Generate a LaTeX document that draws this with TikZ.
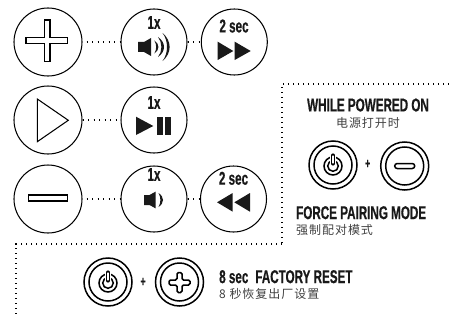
\documentclass[tikz,border=0pt]{standalone}
\usepackage{fontspec}
\setmainfont{Liberation Sans}
\newfontfamily\cond[FakeStretch=0.63,FakeBold=0.6]{Liberation Sans Bold}
\newfontfamily\cjk[LetterSpace=8]{Noto Sans CJK SC}
\usetikzlibrary{calc}
\colorlet{ink}{black!90}
\tikzset{
  bigbtn/.style={circle,draw=black,line width=1.05pt,minimum size=68pt,inner sep=0pt},
  actbtn/.style={circle,draw=black,line width=1.05pt,minimum size=66pt,inner sep=0pt},
  ring/.style={circle,draw=black,line width=1.5pt,minimum size=48pt,inner sep=0pt},
  ringin/.style={circle,draw=black,line width=1.5pt,minimum size=38pt,inner sep=0pt},
  dotline/.style={line width=1.2pt,dash pattern=on 1.2pt off 4.3pt},
  frameline/.style={line width=1.3pt,dash pattern=on 1.3pt off 3.7pt},
  boldtxt/.style={font=\cond\fontsize{#1}{#1}\selectfont,inner sep=0pt,text=ink},
  zh/.style={font=\cjk\fontsize{12}{12}\selectfont,inner sep=0pt,text=black!75},
  glyph/.style={draw=black,line width=1.05pt,fill=white},
  smallglyph/.style={draw=black,line width=1.5pt,fill=white,rounded corners=1.5pt}
}
% crescent: tip x, centre y, half height, outer bulge, inner bulge
\newcommand{\crescent}[5]{\fill[ink] (#1,#2-#3) .. controls (#1+#4,#2-#3*0.45) and (#1+#4,#2+#3*0.45) .. (#1,#2+#3) .. controls (#1+#5,#2+#3*0.45) and (#1+#5,#2-#3*0.45) .. (#1,#2-#3) -- cycle;}
\newcommand{\powerglyph}[2]{%
  \begin{scope}[shift={(#1,#2)}]
  \draw[line width=1.5pt,black] (0,0) circle[radius=9];
  \draw[line width=1.5pt,black] (0,0) circle[radius=5.3];
  \draw[line width=5.4pt,white,line cap=round] (0,-11) -- (0,-2);
  \draw[line width=4.2pt,black,line cap=round] (0,-10.5) -- (0,-2.5);
  \draw[line width=1.2pt,white,line cap=round] (0,-10) -- (0,-3);
  \end{scope}}
\begin{document}
\begin{tikzpicture}[x=1pt,y=-1pt]
\useasboundingbox (0,0) rectangle (449,321);
% buttons
\node[bigbtn] (plus) at (48,42) {};
\node[actbtn] (volup) at (154,42) {};
\node[actbtn] (ffw) at (234.3,42) {};
\node[bigbtn] (play) at (48,120) {};
\node[actbtn] (pp) at (154,120) {};
\node[bigbtn] (minus) at (48,199) {};
\node[actbtn] (voldn) at (154,199) {};
\node[actbtn] (rew) at (233.5,199) {};
% connectors
\draw[dotline,shorten <=4pt] (plus) -- (volup);
\draw[dotline] (volup) -- (ffw);
\draw[dotline] (play) -- (pp);
\draw[dotline,shorten <=4pt] (minus) -- (voldn);
\draw[dotline] (voldn) -- (rew);
% big glyphs
\draw[glyph] (44.3,20) -- (50,20) -- (50,37.7) -- (67.7,37.7) -- (67.7,43.3) -- (50,43.3) -- (50,61.7) -- (44.3,61.7) -- (44.3,43.3) -- (26,43.3) -- (26,37.7) -- (44.3,37.7) -- cycle;
\draw[glyph] (37.3,99) -- (68.3,120.3) -- (37.3,141.7) -- cycle;
\draw[glyph] (28.3,195) rectangle (67.7,201);
% labels
\node[boldtxt=18.5] (l1) at (154,22.5) {1x};
\node[boldtxt=18.5] (l2) at (234,26) {2 sec};
\node[boldtxt=18.5] (l3) at (154,102.5) {1x};
\node[boldtxt=18.5] (l4) at (154,174.5) {1x};
\node[boldtxt=18.5] (l5) at (233.5,178.3) {2 sec};
% vol up glyph
\fill[ink] (138,42) -- (144,42) -- (151,38) -- (151,56) -- (144,52) -- (138,52) -- cycle;
\crescent{154.3}{47}{6.5}{5.5}{2.5}
\crescent{158}{47}{10}{8}{4.5}
\crescent{162.5}{47}{14}{9.5}{6}
% ffw
\fill[ink] (217.7,41.7) -- (233.3,51) -- (217.7,60) -- cycle;
\fill[ink] (234.7,41.7) -- (250.7,51) -- (234.7,60) -- cycle;
% play pause
\fill[ink] (136,116.7) -- (153.3,126) -- (136,135) -- cycle;
\fill[ink] (156.7,116.7) rectangle (163.3,135);
\fill[ink] (165,116.7) rectangle (171,135);
% vol down
\fill[ink] (144,195) -- (149.5,195) -- (155.5,191.7) -- (155.5,208.3) -- (149.5,205) -- (144,205) -- cycle;
\crescent{158.5}{200}{7}{6}{2.5}
% rew
\fill[ink] (232.7,193) -- (217,202.3) -- (232.7,211.7) -- cycle;
\fill[ink] (250,193) -- (234.3,202.3) -- (250,211.7) -- cycle;
% dotted frames
\coordinate (a) at (282,84);
\coordinate (b) at (449,84);
\coordinate (c) at (282,244);
\coordinate (d) at (16,244);
\coordinate (e) at (16,316);
\draw[frameline] (b) -- (a) -- (c);
\draw[frameline] (c) -- (d) -- (e);
% right panel
\node[boldtxt=18.5] (t1) at (368,105) {WHILE POWERED ON};
\node[zh] (t2) at (368,123) {电源打开时};
\node[ring] (pwr1) at (333,165) {};
\node[ringin] (pwr1i) at (333,165) {};
\powerglyph{333}{166}
\node[boldtxt=14] (plus1) at (367.7,164) {+};
\node[ring] (min1) at (404.7,166) {};
\node[ringin] (min1i) at (404.7,166) {};
\draw[smallglyph,rounded corners=2.5pt] (394.7,163.5) rectangle (414.7,168.5);
\node[boldtxt=18.5,anchor=west] (t3) at (296,212.7) {FORCE PAIRING MODE};
\node[zh,anchor=west] (t4) at (296,230) {强制配对模式};
% bottom panel
\node[ring] (pwr2) at (108,282) {};
\node[ringin] (pwr2i) at (108,282) {};
\powerglyph{108}{283}
\node[boldtxt=14] (plus2) at (143,282) {+};
\node[ring] (plu2) at (179.5,282) {};
\node[ringin] (plu2i) at (179.5,282) {};
\draw[smallglyph] (177,272.5) -- (182,272.5) -- (182,280) -- (190,280) -- (190,285) -- (182,285) -- (182,292.5) -- (177,292.5) -- (177,285) -- (169,285) -- (169,280) -- (177,280) -- cycle;
\node[boldtxt=18.5,anchor=west] (t5) at (219,276.7) {8 sec\hspace{7pt}FACTORY RESET};
\node[zh,anchor=west] (t6) at (219,294) {8 秒恢复出厂设置};
\end{tikzpicture}
\end{document}
